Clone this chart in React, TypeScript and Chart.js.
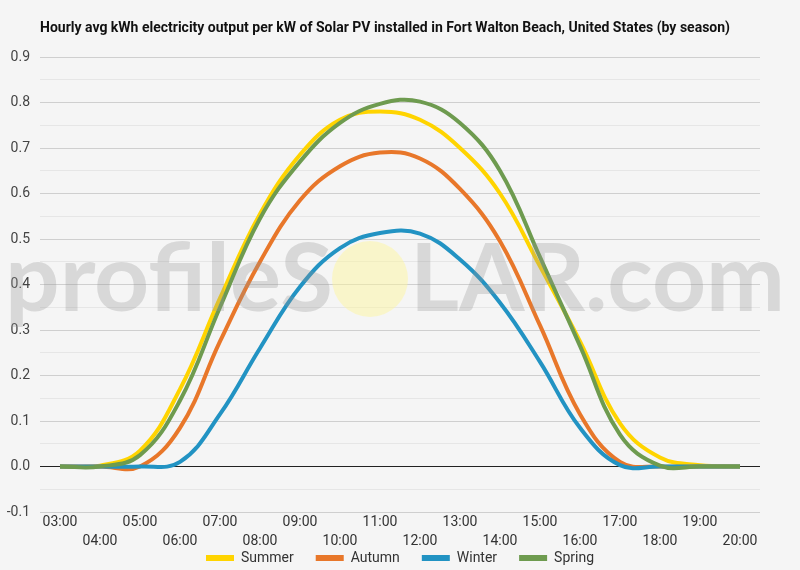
import React, { useEffect, useRef } from 'react';
import Chart from 'chart.js/auto';

const titleText =
  'Hourly avg kWh electricity output per kW of Solar PV installed in Fort Walton Beach, United States (by season)';

const hours = [
  '03:00', '04:00', '05:00', '06:00', '07:00', '08:00', '09:00', '10:00', '11:00',
  '12:00', '13:00', '14:00', '15:00', '16:00', '17:00', '18:00', '19:00', '20:00',
];

const seasons = ['Summer', 'Autumn', 'Winter', 'Spring'];
const seasonColors = ['#ffd400', '#e8772a', '#2293c3', '#6e9b4f'];

const summer = [0, 0.002, 0.035, 0.17, 0.37, 0.555, 0.685, 0.762, 0.78, 0.762, 0.7, 0.6, 0.44, 0.275, 0.095, 0.02, 0.003, 0];
const autumn = [0, 0, 0, 0.085, 0.275, 0.45, 0.585, 0.66, 0.69, 0.677, 0.61, 0.495, 0.31, 0.115, 0.01, 0, 0, 0];
const winter = [0, 0, 0, 0.01, 0.115, 0.26, 0.395, 0.48, 0.513, 0.512, 0.455, 0.36, 0.23, 0.085, 0.003, 0, 0, 0];
const spring = [0, 0, 0.025, 0.145, 0.35, 0.545, 0.67, 0.755, 0.797, 0.802, 0.755, 0.65, 0.46, 0.265, 0.07, 0.002, 0, 0];

const yMin = -0.1;
const yMax = 0.9;

const watermarkLeft = 'profileS';
const watermarkRight = 'LAR.com';

// title + profileSOLAR watermark, drawn straight on the canvas
const overlayPlugin = {
  id: 'overlay',
  afterDatasetsDraw(chart: Chart) {
    const ctx = chart.ctx;

    ctx.save();
    ctx.fillStyle = 'rgba(255, 246, 150, 0.45)';
    ctx.beginPath();
    ctx.arc(370, 279, 38, 0, Math.PI * 2);
    ctx.fill();

    ctx.font = 'bold 94px Lato, "Open Sans", sans-serif';
    ctx.fillStyle = 'rgba(150, 150, 150, 0.3)';
    ctx.textBaseline = 'alphabetic';
    const w1 = ctx.measureText(watermarkLeft).width;
    ctx.save();
    ctx.translate(5, 311);
    ctx.scale(328 / w1, 1);
    ctx.fillText(watermarkLeft, 0, 0);
    ctx.restore();
    const w2 = ctx.measureText(watermarkRight).width;
    ctx.save();
    ctx.translate(410, 311);
    ctx.scale(375 / w2, 1);
    ctx.fillText(watermarkRight, 0, 0);
    ctx.restore();
    ctx.restore();
  },
  afterDraw(chart: Chart) {
    const ctx = chart.ctx;
    ctx.save();
    ctx.font = 'bold 15px Roboto, sans-serif';
    ctx.fillStyle = '#111';
    ctx.textBaseline = 'middle';
    const tw = ctx.measureText(titleText).width;
    ctx.translate(40, 28);
    ctx.scale(Math.min(1, 690 / tw), 1);
    ctx.fillText(titleText, 0, 0);
    ctx.restore();
  },
};

const tickFont = { family: 'Roboto', size: 14 };

const App: React.FC = () => {
  const chartRef = useRef<HTMLCanvasElement>(null);
  const chartInstance = useRef<Chart | null>(null);

  useEffect(() => {
    document.body.style.margin = '0';
    if (!chartRef.current) return;
    if (chartInstance.current) chartInstance.current.destroy();

    const series = [summer, autumn, winter, spring];
    const tickRound = (v: number) => Math.round(v * 100);

    chartInstance.current = new Chart(chartRef.current, {
      type: 'line',
      data: {
        labels: hours,
        datasets: seasons.map((name, i) => ({
          label: name,
          data: series[i],
          borderColor: seasonColors[i],
          backgroundColor: seasonColors[i],
          borderWidth: 4,
          pointRadius: 0,
          tension: 0.4,
          fill: false,
          order: 4 - i,
        })),
      },
      options: {
        animation: false,
        responsive: true,
        maintainAspectRatio: false,
        layout: { padding: { top: 57, right: 0, bottom: -5, left: 0 } },
        scales: {
          x: {
            offset: true,
            grid: { display: false, drawTicks: false },
            border: { display: false },
            ticks: {
              autoSkip: false,
              maxRotation: 0,
              minRotation: 0,
              padding: 1,
              color: '#333',
              font: { ...tickFont, lineHeight: 1.35 },
              // odd hours drop to a second row
              callback: (_v, i) => (i % 2 ? ['', hours[i]] : hours[i]),
            },
            afterFit: (scale) => {
              scale.height = 17;
              // let the second row spill below the axis box
              (scale as any)._computeLabelArea = () => undefined;
            },
          },
          y: {
            min: yMin,
            max: yMax,
            border: { display: false },
            grid: {
              drawTicks: false,
              color: (c) => {
                const r = tickRound(c.tick.value);
                if (r === 0) return '#222';
                return r % 10 === 0 ? '#cfcfcf' : '#e6e6e6';
              },
            },
            ticks: {
              stepSize: 0.05,
              padding: 10,
              color: '#444',
              font: tickFont,
              callback: (v) => {
                const r = tickRound(Number(v));
                return r % 10 === 0 ? (r / 100).toFixed(1) : '';
              },
            },
            afterFit: (scale) => {
              scale.width = 40;
            },
          },
          // empty right margin so the legend centres on the page
          yRight: {
            position: 'right',
            grid: { display: false, drawTicks: false },
            border: { display: false },
            ticks: { display: false },
            afterFit: (scale) => {
              scale.width = 40;
            },
          },
        },
        plugins: {
          legend: {
            position: 'bottom',
            labels: {
              boxWidth: 28,
              boxHeight: 6,
              padding: 22,
              color: '#333',
              font: tickFont,
              sort: (a, b) => (a.datasetIndex ?? 0) - (b.datasetIndex ?? 0),
              generateLabels: (chart) =>
                Chart.defaults.plugins.legend.labels
                  .generateLabels(chart)
                  .map((l) => ({ ...l, lineWidth: 0 })),
            },
          },
          title: { display: false },
          tooltip: { enabled: false },
        },
      },
      plugins: [overlayPlugin],
    });

    return () => {
      if (chartInstance.current) {
        chartInstance.current.destroy();
        chartInstance.current = null;
      }
    };
  }, []);

  return (
    <div style={{ position: 'relative', width: 800, height: 570, background: '#f5f5f5' }}>
      <canvas ref={chartRef} />
    </div>
  );
};

export default App;
